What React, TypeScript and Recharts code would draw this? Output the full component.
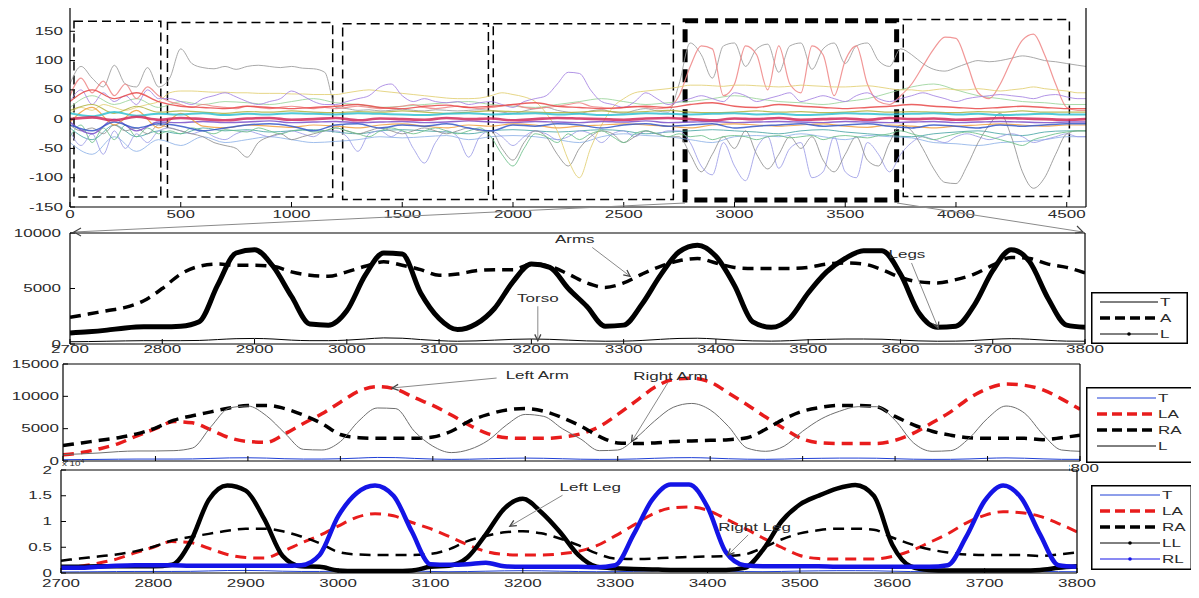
import React from 'react'
import { LineChart, Line, XAxis, YAxis, ReferenceArea, ReferenceLine, ReferenceDot } from 'recharts'

const FONT = '"Liberation Sans", Arial, sans-serif'
const INK = '#2b2b2b'
const STRETCH = 1.7

// ---------- panel 1: all channels, samples 0..4587 ----------
const TOP_FINE_X = [...Array.from({ length: 92 }, (_, i) => i * 50), 4587]
const TOP_COARSE_X = [...Array.from({ length: 46 }, (_, i) => i * 100), 4587]
const TOP_X_TICKS = [0, 500, 1000, 1500, 2000, 2500, 3000, 3500, 4000, 4500]
const TOP_Y_TICKS = [-150, -100, -50, 0, 50, 100, 150, 200]

// fine channels (step 50)
const CH_GRAY_HI = [
  60, 90, 70, 55, 92, 60, 55, 88, 55,
  70, 120, 95, 88, 86, 90, 85, 90, 92, 90, 88, 90, 87, 86, 80,
  20, 18, 15, 16, 14, 15, 17, 15, 14, 16, 15, 14, 15, 16,
  15, 12, 10, 14, 18, 20, 15, 12, 10, 14, 16, 12, 10, 15, 18, 14, 12,
  60, 130, 110, 70, 125, 130, 90, 120, 128, 80, 125, 130, 85, 120, 130, 95, 125, 130, 100, 90,
  120, 110, 95, 85, 82, 88, 95, 100, 98, 100, 104, 108, 105, 100, 98, 95, 92, 90,
]
const CH_PINK = [
  40, 70, 45, 65, 40, 60, 35, 55, 40,
  30, 25, 20, 25, 22, 20, 18, 22, 20, 18, 20, 22, 20, 18, 20,
  18, 20, 22, 20, 18, 20, 22, 25, 20, 18, 20, 22, 20, 18,
  20, 22, 25, 20, 18, 20, 22, 25, 28, 22, 20, 18, 20, 22, 20, 18, 20,
  40, 90, 125, 120, 40, 60, 125, 110, 50, 125, 60, 45, 125, 110, 40, 100, 125, 60, 30, 25,
  40, 60, 90, 120, 140, 138, 95, 45, 35, 60, 100, 135, 145, 110, 60, 20, 15, 15,
]
const CH_LAVENDER = [
  -20, -45, -25, -60, -20, -50, -25, -40, -20,
  -15, -20, -25, -20, -30, -35, -25, -20, -25, -30, -25, -20, -25, -30, -20,
  -20, -30, -55, -25, -20, -30, -20, -50, -75, -40, -20, -30, -65, -30,
  -20, -30, -45, -30, -20, -25, -35, -30, -20, -25, -40, -25, -20, -30, -20, -25, -20,
  -20, -40, -80, -95, -40, -80, -105, -50, -30, -84, -50, -40, -100, -90, -30, -90, -100, -40, -60, -90,
  -60, -40, -30, -35, -40, -30, -25, -30, -35, -30, -25, -30, -40, -35, -30, -25, -30, -30,
]
const CH_GRAY_LO = [
  -10, -20, -15, -25, -10, -20, -15, -25, -10,
  -15, -20, -25, -30, -40, -45, -50, -65, -40, -30, -25, -35, -30, -25, -20,
  -15, -20, -25, -20, -15, -20, -25, -20, -15, -20, -25, -20, -15, -20,
  -20, -50, -70, -40, -20, -30, -60, -80, -50, -30, -20, -25, -40, -30, -20, -25, -30,
  -30, -60, -90, -60, -30, -50, -20, -60, -85, -60, -30, -50, -30, -70, -90, -60, -30, -70, -80, -40,
  -10, -20, -50, -85, -108, -110, -80, -40, -10, 10, -30, -90, -118, -100, -60, -25, -20, -20,
]
const CH_YELLOW = [
  10, 20, 15, 25, 20, 15, 20, 25, 30,
  45, 48, 48, 47, 46, 46, 45, 45, 44, 44, 44, 43, 43, 42, 42,
  42, 45, 48, 50, 48, 46, 44, 42, 40, 38, 36, 35, 35, 36,
  40, 45, 42, 38, 30, 10, -20, -70, -100, -50, -10, 20, 35, 45, 48, 50, 52,
  55, 58, 58, 57, 56, 58, 58, 57, 56, 55, 56, 58, 57, 56, 55, 55, 56, 57, 55, 52,
  50, 50, 48, 50, 52, 50, 50, 52, 50, 48, 50, 52, 55, 52, 50, 48, 45, 45,
]
const CH_PURPLE = [
  30, 50, 25, 45, 30, 40, 25, 50, 35,
  35, 30, 25, 35, 40, 45, 38, 30, 25, 30, 35, 48, 40, 30, 25,
  25, 30, 35, 40, 55, 60, 40, 30, 35, 30, 28, 30, 25, 28,
  30, 25, 20, 30, 35, 40, 60, 80, 78, 50, 30, 25, 20, 30, 45, 35, 25,
  30, 35, 40, 35, 30, 45, 40, 30, 35, 40, 45, 30, 35, 40, 35, 30, 40, 45, 35, 30,
  35, 40, 45, 40, 35, 30, 35, 38, 40, 42, 40, 38, 35, 40, 42, 38, 35, 35,
]
const CH_GREEN = [
  -30, -10, -40, -15, -35, -10, -30, -15, -25,
  -20, -25, -15, -20, -25, -18, -20, -22, -15, -20, -25, -20, -18, -22, -20,
  -15, -20, -25, -30, -20, -15, -20, -25, -20, -15, -20, -25, -20, -15,
  -30, -60, -80, -50, -25, -30, -40, -25, -35, -25, -20, -30, -40, -25, -20, -25, -30,
  -25, -30, -28, -35, -30, -28, -30, -35, -30, -28, -32, -30, -28, -35, -30, -28, -30, -32, -28, -25,
  -20, -25, -30, -35, -30, -25, -22, -25, -30, -35, -40, -45, -35, -30, -25, -22, -20, -20,
]

// coarse channels (step 100), the bundle around zero
const CH_CRIMSON = [0, 3, -2, 4, -1, 2, 0, -2, 1, 2, -1, 0, 2, -2, 1, 0, -1, 2, 0, 1, -2, 0, 2, 1, 0, -1, 1, 2, 0, -2, 1, 0, 2, -1, 0, 1, -1, 2, 0, 1, -1, 0, 2, 1, 0, -1, 0]
const CH_CYAN = [10, 5, 12, 6, 9, 8, 10, 7, 9, 8, 10, 9, 8, 10, 9, 8, 7, 9, 10, 8, 9, 10, 8, 9, 7, 8, 10, 9, 8, 9, 10, 8, 9, 7, 8, 10, 9, 8, 9, 10, 8, 9, 7, 8, 9, 8, 8]
const CH_BLUE = [-10, -20, -5, -15, -8, -12, -20, -15, -10, -8, -12, -20, -10, -8, -15, -10, -12, -8, -15, -20, -10, -12, -8, -10, -15, -10, -8, -12, -10, -8, -15, -12, -10, -8, -12, -10, -8, -12, -15, -10, -12, -15, -10, -12, -10, -8, -8]
const CH_RED = [30, 50, 35, 45, 30, 22, 20, 18, 22, 20, 18, 20, 22, 25, 20, 18, 22, 24, 20, 22, 25, 28, 22, 20, 18, 20, 22, 20, 25, 28, 22, 20, 25, 22, 20, 18, 20, 22, 25, 22, 20, 18, 20, 22, 20, 18, 18]
const CH_ORANGE = [-5, 20, -10, 15, -15, 10, -12, -15, -10, -12, -14, -10, -12, -15, -10, -8, -12, -15, -10, -12, -8, -10, -15, -12, -10, -8, -10, -12, -15, -10, -8, -10, -12, -10, -8, -12, -14, -10, -12, -15, -12, -10, -8, -10, -12, -10, -10]
const CH_SKY = [-40, -60, -30, -55, -35, -45, -30, -40, -35, -30, -35, -40, -38, -35, -30, -32, -30, -28, -35, -30, -28, -30, -35, -40, -30, -25, -28, -30, -35, -40, -30, -28, -30, -25, -30, -35, -28, -30, -32, -40, -42, -45, -40, -38, -35, -30, -30]
const CH_MINT = [20, 40, 25, 35, 20, 30, 25, 30, 28, 25, 30, 35, 28, 25, 20, 22, 25, 28, 30, 25, 22, 20, 25, 30, 35, 30, 25, 28, 30, 35, 40, 35, 30, 28, 25, 30, 35, 45, 55, 60, 50, 40, 35, 30, 28, 25, 25]
const CH_TEAL = [-15, -35, -10, -30, -20, -25, -15, -20, -18, -22, -20, -18, -22, -25, -20, -18, -20, -22, -25, -20, -18, -20, -22, -20, -18, -20, -25, -22, -20, -18, -20, -22, -25, -20, -18, -22, -25, -28, -30, -25, -22, -20, -25, -28, -22, -20, -20]
const CH_OLIVE = [15, 25, 10, 22, 12, 14, 12, 10, 13, 12, 14, 12, 11, 13, 12, 14, 12, 10, 12, 14, 13, 12, 11, 12, 14, 12, 13, 15, 12, 11, 12, 14, 12, 13, 11, 12, 14, 12, 13, 12, 11, 13, 12, 14, 12, 12, 12]
const CH_VIOLET = [-5, -25, 0, -20, -5, -6, -4, -6, -5, -3, -6, -5, -4, -6, -5, -4, -6, -5, -3, -5, -6, -4, -5, -6, -4, -5, -3, -6, -5, -4, -6, -5, -4, -5, -6, -4, -5, -6, -5, -4, -6, -5, -4, -5, -6, -5, -5]

// segment boxes [x1, x2, y1, y2]
const SEGMENTS = [
  [18, 410, -133, 167],
  [440, 1186, -133, 165],
  [1231, 1889, -137, 163],
  [1911, 2724, -137, 163],
  [3762, 4512, -132, 170],
]
const ZOOM_SEGMENT = [2777, 3732, -138, 168]

// ---------- panels 2-4: zoom on 2700..3800 ----------
const GAIT_X = Array.from({ length: 56 }, (_, i) => 2700 + i * 20)
const GAIT_X_TICKS = [2700, 2800, 2900, 3000, 3100, 3200, 3300, 3400, 3500, 3600, 3700, 3800]

const TORSO = [
  200, 220, 250, 280, 300, 300, 300, 320, 400, 480,
  500, 450, 350, 300, 300, 350, 450, 550, 520, 400,
  300, 250, 280, 350, 420, 450, 420, 350, 280, 250,
  260, 320, 420, 500, 520, 450, 350, 280, 260, 300,
  380, 420, 450, 450, 430, 350, 280, 250, 260, 320,
  420, 480, 430, 330, 260, 250,
]
const ARMS = [
  2400, 2700, 3000, 3300, 3900, 5000, 6300, 7000, 7200, 7100,
  7100, 7000, 6500, 6200, 6100, 6500, 7000, 7400, 7100, 6700,
  6200, 6300, 6600, 6700, 6700, 7200, 7000, 6300, 5500, 5100,
  5500, 6300, 7000, 7500, 7700, 7300, 6900, 6800, 6800, 6800,
  6900, 7200, 7300, 7200, 6700, 6000, 5600, 5500, 5800, 6300,
  7100, 7800, 7700, 7200, 6900, 6400,
]
const LEGS = [
  1000, 1100, 1250, 1450, 1550, 1550, 1600, 2000, 5300, 8200,
  8500, 7000, 4300, 1800, 1700, 3000, 6200, 8200, 8100, 4600,
  2300, 1300, 1800, 3200, 5600, 7200, 6900, 5000, 3400, 1600,
  1700, 3600, 6200, 8300, 8900, 7900, 5300, 2000, 1500, 2300,
  4600, 6500, 7700, 8400, 8400, 6300, 2800, 1500, 1600, 3500,
  6600, 8500, 7400, 4100, 1700, 1500,
]
const LEFT_ARM = [
  950, 1300, 1900, 2700, 3900, 5000, 6100, 5900, 4800, 3600,
  3000, 2900, 4200, 5800, 7300, 9100, 10800, 11500, 11100, 9800,
  8600, 7100, 5500, 4200, 3600, 3500, 3500, 3700, 4200, 5300,
  7200, 9300, 11400, 12600, 12800, 12200, 10500, 8700, 6800, 5000,
  3400, 2800, 2700, 2700, 2700, 3200, 4300, 5900, 7600, 9700,
  11200, 11900, 11700, 11000, 9600, 8000,
]
const RIGHT_ARM = [
  2400, 2800, 3200, 3600, 4200, 5100, 6300, 7000, 7600, 8200,
  8600, 8600, 8100, 7100, 5800, 4100, 3600, 3500, 3500, 3500,
  3700, 4600, 6200, 7200, 7900, 8100, 7700, 6700, 5400, 3800,
  2800, 2700, 2800, 3000, 3100, 3200, 3300, 3600, 4900, 6500,
  7700, 8300, 8600, 8600, 8400, 6900, 5600, 4600, 4000, 3600,
  3500, 3500, 3500, 3300, 3600, 4000,
]
// legs in units of 10^4
const LEFT_LEG = [
  0.12, 0.12, 0.13, 0.13, 0.13, 0.13, 0.16, 0.6, 1.42, 1.7,
  1.6, 1.05, 0.33, 0.13, 0.12, 0.05, 0.04, 0.04, 0.04, 0.05,
  0.12, 0.14, 0.3, 0.75, 1.25, 1.44, 1.18, 0.8, 0.35, 0.12,
  0.09, 0.08, 0.07, 0.06, 0.06, 0.06, 0.06, 0.1, 0.45, 1.0,
  1.33, 1.5, 1.64, 1.71, 1.5, 0.55, 0.13, 0.06, 0.05, 0.05,
  0.05, 0.05, 0.05, 0.06, 0.1, 0.13,
]
const RIGHT_LEG = [
  0.1, 0.1, 0.12, 0.14, 0.15, 0.15, 0.15, 0.14, 0.14, 0.14,
  0.14, 0.14, 0.14, 0.15, 0.35, 1.1, 1.55, 1.7, 1.5, 0.8,
  0.17, 0.16, 0.17, 0.2, 0.13, 0.12, 0.12, 0.12, 0.12, 0.11,
  0.15, 0.75, 1.42, 1.72, 1.72, 1.28, 0.4, 0.15, 0.13, 0.13,
  0.13, 0.13, 0.12, 0.12, 0.12, 0.12, 0.12, 0.12, 0.15, 0.7,
  1.4, 1.7, 1.45, 0.75, 0.15, 0.12,
]

const GAIT_ROWS = GAIT_X.map((x, i) => ({
  x,
  T: TORSO[i],
  A: ARMS[i],
  L: LEGS[i],
  LA: LEFT_ARM[i],
  RA: RIGHT_ARM[i],
  T4: TORSO[i] / 10000,
  LA4: LEFT_ARM[i] / 10000,
  RA4: RIGHT_ARM[i] / 10000,
  LL: LEFT_LEG[i],
  RL: RIGHT_LEG[i],
}))

const ANN_2 = [
  { text: 'Arms', tx: 3247, ty: 9400, x1: 3266, y1: 8700, x2: 3307, y2: 6100 },
  { text: 'Torso', tx: 3207, ty: 4100, x1: 3207, y1: 3400, x2: 3207, y2: 300 },
  { text: 'Legs', tx: 3607, ty: 8050, x1: 3612, y1: 7300, x2: 3641, y2: 1400 },
]
const ANN_3 = [
  { text: 'Left Arm', tx: 3213, ty: 13300, x1: 3169, y1: 12830, x2: 3056, y2: 11290 },
  { text: 'Right Arm', tx: 3357, ty: 13150, x1: 3354, y1: 12060, x2: 3315, y2: 3000 },
]
const ANN_4 = [
  { text: 'Left Leg', tx: 3273, ty: 1.67, x1: 3243, y1: 1.51, x2: 3186, y2: 0.91 },
  { text: 'Right Leg', tx: 3451, ty: 0.89, x1: 3444, y1: 0.74, x2: 3422, y2: 0.35 },
]

const pts = (xs: number[], ys: number[]) => xs.map((x, i) => ({ x, y: ys[i] }))

const TOP_LINES = [
  { ys: CH_MINT, xs: TOP_COARSE_X, color: '#9ad49a', w: 1 },
  { ys: CH_SKY, xs: TOP_COARSE_X, color: '#8fb3e8', w: 1 },
  { ys: CH_TEAL, xs: TOP_COARSE_X, color: '#4aa6a6', w: 1 },
  { ys: CH_GRAY_HI, xs: TOP_FINE_X, color: '#9a9a9a', w: 1 },
  { ys: CH_PINK, xs: TOP_FINE_X, color: '#ef8585', w: 1.2 },
  { ys: CH_LAVENDER, xs: TOP_FINE_X, color: '#9c9ce6', w: 1 },
  { ys: CH_GRAY_LO, xs: TOP_FINE_X, color: '#8f8f8f', w: 1 },
  { ys: CH_YELLOW, xs: TOP_FINE_X, color: '#e2cf72', w: 1 },
  { ys: CH_PURPLE, xs: TOP_FINE_X, color: '#a583e2', w: 1 },
  { ys: CH_GREEN, xs: TOP_FINE_X, color: '#6cc08a', w: 1 },
  { ys: CH_OLIVE, xs: TOP_COARSE_X, color: '#b0b040', w: 1.2 },
  { ys: CH_VIOLET, xs: TOP_COARSE_X, color: '#7a4fc9', w: 1.4 },
  { ys: CH_ORANGE, xs: TOP_COARSE_X, color: '#f0a040', w: 1.2 },
  { ys: CH_RED, xs: TOP_COARSE_X, color: '#e84848', w: 1.4 },
  { ys: CH_BLUE, xs: TOP_COARSE_X, color: '#3558c8', w: 1.5 },
  { ys: CH_CYAN, xs: TOP_COARSE_X, color: '#33c1d2', w: 2 },
  { ys: CH_CRIMSON, xs: TOP_COARSE_X, color: '#d22a5c', w: 2.6 },
]

function StretchTick(props: any) {
  const { x, y, payload, textAnchor, verticalAnchor } = props
  const dy = verticalAnchor === 'start' ? '0.72em' : verticalAnchor === 'end' ? '0' : '0.36em'
  return (
    <text
      transform={`translate(${x},${y}) scale(${STRETCH},1)`}
      textAnchor={textAnchor}
      dy={dy}
      fontSize={10}
      fontFamily={FONT}
      fill={INK}
    >
      {payload.value}
    </text>
  )
}

// panel 3 labels are hidden under panel 4, only the last one peeks out
function LastOnlyTick(props: any) {
  if (props.payload.value !== 3800) return <g />
  return <StretchTick {...props} />
}

function arrowShape(p: any) {
  const { x1, y1, x2, y2 } = p
  const a = Math.atan2(y2 - y1, x2 - x1)
  const len = 7
  const b1 = `${x2 - len * Math.cos(a - 0.45)},${y2 - len * Math.sin(a - 0.45)}`
  const b2 = `${x2 - len * Math.cos(a + 0.45)},${y2 - len * Math.sin(a + 0.45)}`
  return (
    <g>
      <line x1={x1} y1={y1} x2={x2} y2={y2} stroke="#8a8a8a" strokeWidth={1} />
      <polyline points={`${b1} ${x2},${y2} ${b2}`} fill="none" stroke="#444" strokeWidth={1.3} />
    </g>
  )
}

function textShape(text: string) {
  return (p: any) => (
    <text
      transform={`translate(${p.cx},${p.cy}) scale(${STRETCH},1)`}
      textAnchor="middle"
      dy="0.36em"
      fontSize={10}
      fontFamily={FONT}
      fill={INK}
    >
      {text}
    </text>
  )
}

function annotations(list: typeof ANN_2) {
  return list.flatMap((a) => [
    <ReferenceLine
      key={a.text + '-arrow'}
      segment={[{ x: a.x1, y: a.y1 }, { x: a.x2, y: a.y2 }]}
      shape={arrowShape}
    />,
    <ReferenceDot key={a.text + '-label'} x={a.tx} y={a.ty} r={1} shape={textShape(a.text)} />,
  ])
}

// MATLAB style box with inward ticks on all four sides
function frameAxes(xDomain: number[], xTicks: number[], yDomain: number[], yTicks: number[], yWidth: number,
  xTickMargin: number, yTickMargin: number, xHeight: number, xTick: any = StretchTick) {
  const axisLine = { stroke: '#000', strokeWidth: 1.2 }
  const tickLine = { stroke: '#000' }
  return [
    <XAxis key="xb" dataKey="x" type="number" domain={xDomain} ticks={xTicks} interval={0} allowDataOverflow
      height={xHeight} tickSize={-5} tickMargin={xTickMargin} tick={xTick}
      axisLine={axisLine} tickLine={tickLine} />,
    <XAxis key="xt" xAxisId="top" orientation="top" dataKey="x" type="number" domain={xDomain} ticks={xTicks}
      interval={0} allowDataOverflow height={1} tickSize={-5} tick={false} axisLine={axisLine} tickLine={tickLine} />,
    <YAxis key="yl" type="number" domain={yDomain} ticks={yTicks} interval={0} allowDataOverflow width={yWidth}
      tickSize={-5} tickMargin={yTickMargin} tick={StretchTick} axisLine={axisLine} tickLine={tickLine} />,
    <YAxis key="yr" yAxisId="right" orientation="right" type="number" domain={yDomain} ticks={yTicks} interval={0}
      allowDataOverflow width={1} tickSize={-5} tick={false} axisLine={axisLine} tickLine={tickLine} />,
  ]
}

type LegendItem = { label: string; color: string; width: number; dash?: string; dot?: boolean }

function LegendBox({ left, top, width, height, rowTop, rowGap, lineFrom, lineTo, items }: {
  left: number; top: number; width: number; height: number; rowTop: number; rowGap: number
  lineFrom: number; lineTo: number; items: LegendItem[]
}) {
  return (
    <svg style={{ position: 'absolute', left, top }} width={width} height={height}>
      <rect x={0.75} y={0.75} width={width - 1.5} height={height - 1.5} fill="#fff" stroke="#000" strokeWidth={1.5} />
      {items.map((it, i) => {
        const y = rowTop + i * rowGap
        return (
          <g key={it.label}>
            <line x1={lineFrom} x2={lineTo} y1={y} y2={y} stroke={it.color} strokeWidth={it.width} strokeDasharray={it.dash} />
            {it.dot && <circle cx={(lineFrom + lineTo) / 2} cy={y} r={1.8} fill={it.color} />}
            <text transform={`translate(${lineTo + 2},${y}) scale(${STRETCH},1)`} dy="0.36em" fontSize={10} fontFamily={FONT} fill={INK}>
              {it.label}
            </text>
          </g>
        )
      })}
    </svg>
  )
}

const DASH = '11 7'

export default function App() {
  return (
    <div style={{ position: 'relative', width: 1199, height: 598, margin: -8, background: '#fff', overflow: 'hidden' }}>
      {/* panel 1 */}
      <div style={{ position: 'absolute', left: 0, top: 0 }}>
        <LineChart width={1110} height={227} margin={{ top: 1, right: 23, bottom: 0, left: 0 }}>
          {frameAxes([0, 4587], TOP_X_TICKS, [-150, 200], TOP_Y_TICKS, 70, 9, 12, 20)}
          {TOP_LINES.map((s, i) => (
            <Line key={i} data={pts(s.xs, s.ys)} dataKey="y" type="monotone" stroke={s.color} strokeWidth={s.w}
              strokeOpacity={0.85} dot={false} isAnimationActive={false} />
          ))}
          {SEGMENTS.map((b, i) => (
            <ReferenceArea key={i} x1={b[0]} x2={b[1]} y1={b[2]} y2={b[3]} fill="none" stroke="#000"
              strokeWidth={1.5} strokeDasharray="9 5" />
          ))}
          <ReferenceArea x1={ZOOM_SEGMENT[0]} x2={ZOOM_SEGMENT[1]} y1={ZOOM_SEGMENT[2]} y2={ZOOM_SEGMENT[3]}
            fill="none" stroke="#000" strokeWidth={5} strokeDasharray="13 7" />
        </LineChart>
      </div>

      {/* panel 2 */}
      <div style={{ position: 'absolute', left: 0, top: 223 }}>
        <LineChart width={1110} height={141} data={GAIT_ROWS} margin={{ top: 9, right: 24, bottom: 0, left: 0 }}>
          {frameAxes([2700, 3800], GAIT_X_TICKS, [0, 10000], [0, 5000, 10000], 70, 7, 14, 20)}
          <Line dataKey="T" type="monotone" stroke="#000" strokeWidth={1} dot={false} isAnimationActive={false} />
          <Line dataKey="A" type="monotone" stroke="#000" strokeWidth={3.5} strokeDasharray={DASH} dot={false} isAnimationActive={false} />
          <Line dataKey="L" type="monotone" stroke="#000" strokeWidth={5} dot={false} isAnimationActive={false} />
          {annotations(ANN_2)}
        </LineChart>
      </div>
      <LegendBox left={1091} top={292} width={97} height={52} rowTop={10} rowGap={16} lineFrom={9} lineTo={67}
        items={[
          { label: 'T', color: '#000', width: 1 },
          { label: 'A', color: '#000', width: 3.5, dash: '10 5' },
          { label: 'L', color: '#000', width: 1, dot: true },
        ]} />

      {/* panel 3 */}
      <div style={{ position: 'absolute', left: 0, top: 354 }}>
        <LineChart width={1110} height={127} data={GAIT_ROWS} margin={{ top: 9, right: 29, bottom: 0, left: 0 }}>
          {frameAxes([2700, 3800], GAIT_X_TICKS, [0, 15000], [0, 5000, 10000, 15000], 63, 9, 9, 20, LastOnlyTick)}
          <Line dataKey="T" type="monotone" stroke="#1f3fd6" strokeWidth={1} dot={false} isAnimationActive={false} />
          <Line dataKey="LA" type="monotone" stroke="#e81c1c" strokeWidth={3.5} strokeDasharray={DASH} dot={false} isAnimationActive={false} />
          <Line dataKey="RA" type="monotone" stroke="#000" strokeWidth={3.5} strokeDasharray={DASH} dot={false} isAnimationActive={false} />
          <Line dataKey="L" type="monotone" stroke="#6e6e6e" strokeWidth={1} dot={false} isAnimationActive={false} />
          {annotations(ANN_3)}
        </LineChart>
      </div>
      <LegendBox left={1086} top={387} width={110} height={76} rowTop={11} rowGap={16} lineFrom={11} lineTo={70}
        items={[
          { label: 'T', color: '#1f3fd6', width: 1 },
          { label: 'LA', color: '#e81c1c', width: 3.5, dash: '10 5' },
          { label: 'RA', color: '#000', width: 3.5, dash: '10 5' },
          { label: 'L', color: '#000', width: 1 },
        ]} />

      {/* panel 4 background hides the tick labels of panel 3 */}
      <div style={{ position: 'absolute', left: 61, top: 463, width: 1008, height: 110, background: '#fff' }} />
      <div style={{ position: 'absolute', left: 0, top: 460 }}>
        <LineChart width={1110} height={135} data={GAIT_ROWS} margin={{ top: 9, right: 32, bottom: 0, left: 0 }}>
          {frameAxes([2700, 3800], GAIT_X_TICKS, [0, 2], [0, 0.5, 1, 1.5, 2], 61, 12, 14, 22)}
          <Line dataKey="T4" type="monotone" stroke="#1f3fd6" strokeWidth={1} dot={false} isAnimationActive={false} />
          <Line dataKey="LA4" type="monotone" stroke="#e81c1c" strokeWidth={3} strokeDasharray={DASH} dot={false} isAnimationActive={false} />
          <Line dataKey="RA4" type="monotone" stroke="#000" strokeWidth={2.5} strokeDasharray={DASH} dot={false} isAnimationActive={false} />
          <Line dataKey="LL" type="monotone" stroke="#000" strokeWidth={4.5} dot={false} isAnimationActive={false} />
          <Line dataKey="RL" type="monotone" stroke="#1414e6" strokeWidth={4.5} dot={false} isAnimationActive={false} />
          {annotations(ANN_4)}
        </LineChart>
      </div>
      <LegendBox left={1091} top={485} width={101} height={85} rowTop={10} rowGap={16} lineFrom={9} lineTo={69}
        items={[
          { label: 'T', color: '#1f3fd6', width: 1 },
          { label: 'LA', color: '#e81c1c', width: 3.5, dash: '10 5' },
          { label: 'RA', color: '#000', width: 3.5, dash: '10 5' },
          { label: 'LL', color: '#000', width: 1, dot: true },
          { label: 'RL', color: '#1414e6', width: 1, dot: true },
        ]} />

      {/* zoom connectors and exponent note */}
      <svg style={{ position: 'absolute', left: 0, top: 0, pointerEvents: 'none' }} width={1199} height={598}>
        <line x1={685} y1={203} x2={74} y2={232} stroke="#8a8a8a" strokeWidth={1} />
        <polyline points="81,228 74,232 81,236" fill="none" stroke="#444" strokeWidth={1.2} />
        <line x1={897} y1={203} x2={1083} y2={232} stroke="#8a8a8a" strokeWidth={1} />
        <polyline points="1075,233 1083,232 1077,226" fill="none" stroke="#444" strokeWidth={1.2} />
        <text transform={`translate(62,466) scale(1.4,1)`} fontSize={7} fontFamily={FONT} fill={INK}>
          x 10<tspan dy={-3} fontSize={5}>4</tspan>
        </text>
      </svg>
    </div>
  )
}
